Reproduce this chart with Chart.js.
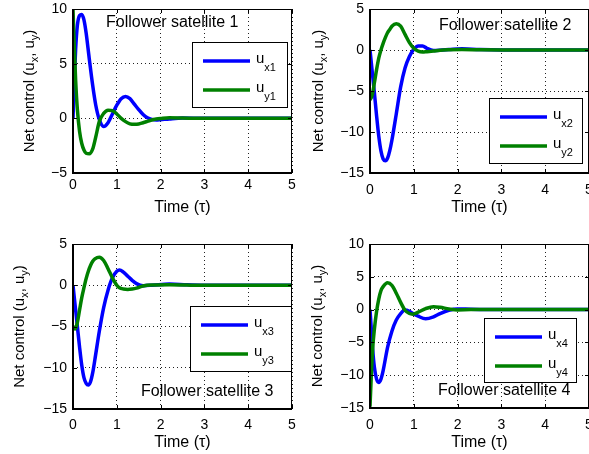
<!DOCTYPE html>
<html>
<head>
<meta charset="utf-8">
<script src="https://cdn.jsdelivr.net/npm/chart.js@4.4.1/dist/chart.umd.min.js"></script>
<style>
html,body{margin:0;padding:0;background:#fff;overflow:hidden;width:589px;height:454px;}
body{position:relative;}
canvas{position:absolute;display:block;}
</style>
</head>
<body>
<canvas id="c1" width="300" height="225" style="left:0;top:0;width:300px;height:225px"></canvas>
<canvas id="c2" width="300" height="225" style="left:300px;top:0;width:300px;height:225px"></canvas>
<canvas id="c3" width="300" height="229" style="left:0;top:225px;width:300px;height:229px"></canvas>
<canvas id="c4" width="300" height="229" style="left:300px;top:225px;width:300px;height:229px"></canvas>
<script>
// ---------------- data ----------------
const xTicks = [0, 1, 2, 3, 4, 5];

const time1 = [0,0.03,0.06,0.1,0.15,0.2,0.25,0.3,0.37,0.45,0.52,0.6,0.7,0.8,0.9,1.0,1.1,1.2,1.3,1.4,1.5,1.6,1.7,1.8,1.9,2.0,2.2,2.5,3,4,5];
const ux1 = [0,3.5,6.3,8.5,9.4,9.5,9.0,7.8,5.5,3.0,1.2,-0.1,-0.75,-0.4,0.4,1.2,1.8,2.0,1.8,1.3,0.8,0.35,0.05,-0.1,-0.15,-0.12,-0.05,0.02,0,0,0];
const uy1 = [10,6.5,3.5,0.8,-1.2,-2.3,-2.9,-3.2,-3.25,-2.8,-1.7,-0.3,0.45,0.75,0.7,0.4,0.0,-0.3,-0.5,-0.55,-0.52,-0.4,-0.28,-0.15,-0.07,-0.02,0.05,0.03,0,0,0];

const time2 = [0,0.05,0.1,0.15,0.2,0.25,0.3,0.35,0.4,0.45,0.5,0.6,0.7,0.8,0.9,1.0,1.1,1.2,1.3,1.45,1.6,1.8,2.1,2.5,3,4,5];
const ux2 = [0,-2.6,-5.2,-8,-10.5,-12.3,-13.3,-13.5,-13.2,-12.3,-11,-7.8,-4.5,-2.2,-0.8,0.1,0.5,0.5,0.2,-0.05,-0.02,0.05,0.15,0.05,0,0,0];
const uy2 = [-6.1,-5.5,-4,-2.4,-1,0,0.8,1.5,2.1,2.5,2.9,3.2,2.9,1.9,0.9,0.2,-0.15,-0.25,-0.2,-0.12,-0.03,0.02,0.05,0.02,0,0,0];

const time3 = [0,0.05,0.1,0.15,0.2,0.25,0.3,0.35,0.4,0.45,0.5,0.6,0.7,0.8,0.9,1.0,1.06,1.15,1.25,1.35,1.45,1.6,1.8,2.2,2.6,3,4,5];
const ux3 = [0,-2.5,-5,-7.5,-9.7,-11.2,-11.9,-12.1,-11.7,-10.6,-9,-5.6,-2.7,-0.6,0.9,1.7,1.85,1.6,1.1,0.6,0.2,-0.05,0,0.15,0.05,0,0,0];
const uy3 = [-5,-5.3,-4.5,-3,-1.5,-0.3,0.8,1.7,2.4,2.9,3.2,3.4,3.0,2.0,0.9,0,-0.3,-0.45,-0.5,-0.45,-0.35,-0.1,0.02,0.05,0.02,0,0,0];

const time4 = [0,0.03,0.06,0.1,0.15,0.2,0.25,0.3,0.4,0.5,0.6,0.7,0.8,0.9,0.97,1.1,1.27,1.45,1.6,1.8,2.0,2.3,3,4,5];
const ux4 = [0,-3,-6,-8.8,-10.6,-11.1,-10.6,-9.3,-5.8,-3.3,-1.6,-0.6,-0.05,-0.25,-0.55,-1.0,-1.4,-1.1,-0.6,-0.1,0.1,0.05,0,0,0];
const uy4 = [-14.8,-10,-6,-3,-0.3,1.6,2.9,3.5,4.1,3.7,2.5,1.1,-0.1,-0.6,-0.7,-0.4,0.15,0.45,0.35,0.1,-0.05,0,0,0,0];

const panelTitles = ['Follower satellite 1','Follower satellite 2','Follower satellite 3','Follower satellite 4'];
const seriesNames = [['x1','y1'],['x2','y2'],['x3','y3'],['x4','y4']];
const xAxisTitle = 'Time (\u03C4)';
const yAxisTitleParts = [{t:'Net control (u'},{t:'x',sub:true},{t:', u'},{t:'y',sub:true},{t:')'}];

// ---------------- drawing ----------------
const FONT = "'Liberation Sans', Arial, Helvetica, sans-serif";
Chart.defaults.font.family = FONT;
Chart.defaults.color = '#000';

function drawRich(ctx, parts, x, y, size, subSize, subDrop, align) {
  let w = 0;
  const widths = parts.map(p => {
    ctx.font = (p.sub ? subSize : size) + 'px ' + FONT;
    const m = ctx.measureText(p.t).width; w += m; return m;
  });
  let cx = align === 'center' ? x - w / 2 : x;
  parts.forEach((p, i) => {
    ctx.font = (p.sub ? subSize : size) + 'px ' + FONT;
    ctx.fillText(p.t, cx, y + (p.sub ? subDrop : 0));
    cx += widths[i];
  });
}

const matlabPlugin = {
  id: 'matlab',
  afterDatasetsDraw(chart, args, o) {
    const {ctx, chartArea: a} = chart;
    const xs = chart.scales.x, ys = chart.scales.y;
    ctx.save();
    ctx.strokeStyle = '#000';
    // inward tick marks
    ctx.lineWidth = 1;
    ctx.beginPath();
    xs.ticks.forEach(t => {
      const px = Math.round(xs.getPixelForValue(t.value)) + 0.5;
      ctx.moveTo(px, a.bottom); ctx.lineTo(px, a.bottom - 4);
      ctx.moveTo(px, a.top); ctx.lineTo(px, a.top + 4);
    });
    ys.ticks.forEach(t => {
      const py = Math.round(ys.getPixelForValue(t.value)) + 0.5;
      ctx.moveTo(a.left, py); ctx.lineTo(a.left + 4, py);
      ctx.moveTo(a.right, py); ctx.lineTo(a.right - 4, py);
    });
    ctx.stroke();
    // box: top/right thin, left/bottom thicker
    ctx.lineWidth = 1;
    ctx.beginPath();
    ctx.moveTo(a.left, a.top + 0.5); ctx.lineTo(a.right, a.top + 0.5);
    ctx.moveTo(a.right - 0.5, a.top); ctx.lineTo(a.right - 0.5, a.bottom);
    ctx.stroke();
    ctx.lineWidth = 2;
    ctx.beginPath();
    ctx.moveTo(a.left, a.top); ctx.lineTo(a.left, a.bottom + 1);
    ctx.moveTo(a.left - 1, a.bottom); ctx.lineTo(a.right, a.bottom);
    ctx.stroke();

    // y axis title (rotated, with subscripts)
    ctx.fillStyle = '#000';
    ctx.textBaseline = 'alphabetic';
    ctx.save();
    ctx.translate(o.yTitleX, (a.top + a.bottom) / 2);
    ctx.rotate(-Math.PI / 2);
    drawRich(ctx, yAxisTitleParts, 0, 0, 15, 11, 4, 'center');
    ctx.restore();

    // panel title text
    ctx.font = '16px ' + FONT;
    ctx.textBaseline = 'middle';
    ctx.textAlign = 'left';
    ctx.fillText(o.title, o.titleX, o.titleY);

    // legend box
    const L = o.legend;
    ctx.fillStyle = '#fff';
    ctx.fillRect(L.x, L.y, L.w, L.h);
    ctx.strokeStyle = '#000';
    ctx.lineWidth = 1;
    ctx.strokeRect(L.x + 0.5, L.y + 0.5, L.w, L.h);
    const rows = [L.y + 19, L.y + 48];
    [0, 1].forEach((di, r) => {
      const ds = chart.data.datasets[di];
      ctx.strokeStyle = ds.borderColor;
      ctx.lineWidth = 3.5;
      ctx.beginPath();
      ctx.moveTo(L.x + 11, rows[r]); ctx.lineTo(L.x + 58, rows[r]);
      ctx.stroke();
      ctx.fillStyle = '#000';
      ctx.textBaseline = 'alphabetic';
      drawRich(ctx, [{t:'u'},{t:ds.label.slice(1),sub:true}], L.x + 64, rows[r] + 2, 15, 11, 8, 'left');
    });
    ctx.restore();
  }
};

function makeChart(id, t, ux, uy, names, yMin, yMax, c) {
  const toPts = (vals) => vals.map((v, i) => ({x: t[i], y: v}));
  return new Chart(document.getElementById(id), {
    type: 'line',
    data: {
      datasets: [
        {label: 'u' + names[0], data: toPts(ux), borderColor: '#0000ff', borderWidth: 3.5, pointRadius: 0, cubicInterpolationMode: 'monotone', fill: false, order: 2},
        {label: 'u' + names[1], data: toPts(uy), borderColor: '#008000', borderWidth: 3.5, pointRadius: 0, cubicInterpolationMode: 'monotone', fill: false, order: 1}
      ]
    },
    options: {
      responsive: false,
      animation: false,
      devicePixelRatio: 1,
      layout: {autoPadding: false, padding: {top: c.padTop, right: c.padRight, left: 0, bottom: 0}},
      plugins: {
        legend: {display: false},
        tooltip: {enabled: false},
        matlab: c.plugin
      },
      scales: {
        x: {
          type: 'linear', min: 0, max: 5,
          afterBuildTicks: (s) => { s.ticks = xTicks.map(v => ({value: v})); },
          afterFit: (s) => { s.height = c.xH; s.paddingLeft = 0; s.paddingRight = 0; s.paddingTop = 0; s.paddingBottom = 0; },
          ticks: {font: {size: 14}, padding: c.xTickPad, maxRotation: 0, color: '#000'},
          grid: {color: '#222', lineWidth: 1, drawTicks: false},
          border: {display: false, dash: [1, 3]},
          title: {display: true, text: xAxisTitle, font: {size: 16}, padding: {top: 0, bottom: c.xTitlePad}, color: '#000'}
        },
        y: {
          type: 'linear', min: yMin, max: yMax,
          afterFit: (s) => { s.width = c.yW; s.paddingLeft = 0; s.paddingRight = 0; s.paddingTop = 0; s.paddingBottom = 0; },
          ticks: {stepSize: 5, font: {size: 14}, padding: 6, color: '#000',
                  callback: (v) => v < 0 ? '\u2212' + Math.abs(v) : String(v)},
          grid: {color: '#222', lineWidth: 1, drawTicks: false},
          border: {display: false, dash: [1, 3]}
        }
      }
    },
    plugins: [matlabPlugin]
  });
}

makeChart('c1', time1, ux1, uy1, seriesNames[0], -5, 10, {
  padTop: 9, padRight: 8, yW: 73, xH: 52, xTickPad: 4, xTitlePad: 8,
  plugin: {yTitleX: 34, title: panelTitles[0], titleX: 106, titleY: 23, legend: {x: 192, y: 42, w: 95, h: 65}}
});
makeChart('c2', time2, ux2, uy2, seriesNames[1], -15, 5, {
  padTop: 9, padRight: 11, yW: 70, xH: 52, xTickPad: 9, xTitlePad: 8,
  plugin: {yTitleX: 23, title: panelTitles[1], titleX: 139, titleY: 26, legend: {x: 189, y: 98, w: 93, h: 65}}
});
makeChart('c3', time3, ux3, uy3, seriesNames[2], -15, 5, {
  padTop: 19, padRight: 8, yW: 73, xH: 45, xTickPad: 8, xTitlePad: 2,
  plugin: {yTitleX: 24, title: panelTitles[2], titleX: 141, titleY: 167, legend: {x: 190, y: 81, w: 101, h: 65}}
});
makeChart('c4', time4, ux4, uy4, seriesNames[3], -15, 10, {
  padTop: 19, padRight: 11, yW: 70, xH: 46, xTickPad: 9, xTitlePad: 2,
  plugin: {yTitleX: 22, title: panelTitles[3], titleX: 138, titleY: 166, legend: {x: 184, y: 93, w: 92, h: 64}}
});
</script>
</body>
</html>
